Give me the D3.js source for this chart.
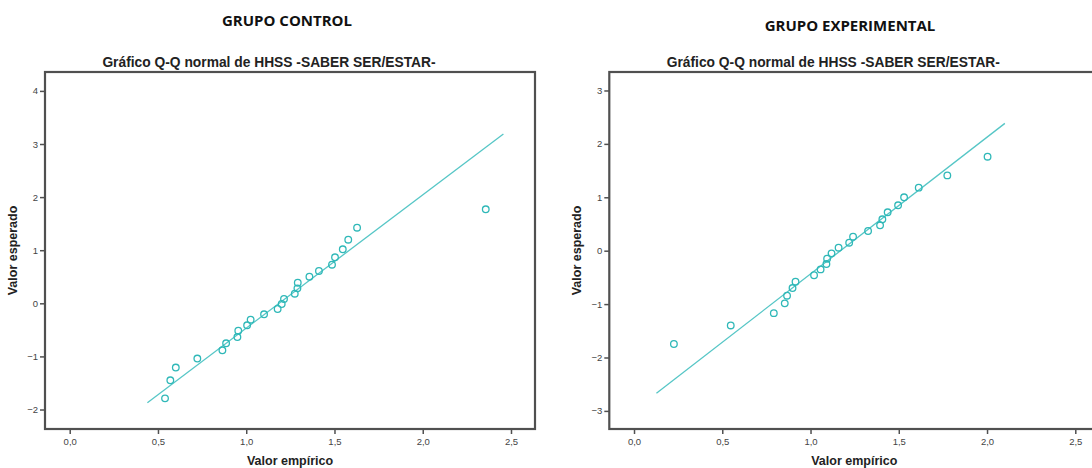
<!DOCTYPE html>
<html>
<head>
<meta charset="utf-8">
<script src="https://cdn.jsdelivr.net/npm/d3@7"></script>
<style>
  body { margin: 0; background: #fff; }
  svg { display: block; }
</style>
</head>
<body>
<svg id="chart" width="1092" height="468"></svg>
<script>
// Values
var xTicks = [0, 0.5, 1.0, 1.5, 2.0, 2.5];

var controlEmp = [0.540, 0.570, 0.601, 0.723, 0.865, 0.886, 0.950, 0.955, 1.005, 1.025,
                  1.101, 1.178, 1.201, 1.214, 1.275, 1.290, 1.292, 1.358, 1.412, 1.486,
                  1.503, 1.547, 1.578, 1.628, 2.357];
var controlExp = [-1.79, -1.45, -1.21, -1.04, -0.885, -0.753, -0.635, -0.516, -0.414, -0.309,
                  -0.207, -0.107, -0.013, 0.081, 0.181, 0.282, 0.388, 0.501, 0.608, 0.727,
                  0.866, 1.017, 1.198, 1.424, 1.770];
var controlLineX = [0.440, 2.457];
var controlYTicks = [-2, -1, 0, 1, 2, 3, 4];

var experEmp = [0.226, 0.548, 0.792, 0.854, 0.867, 0.898, 0.915, 1.020, 1.057, 1.090,
                1.094, 1.119, 1.159, 1.219, 1.241, 1.326, 1.394, 1.407, 1.437, 1.496,
                1.530, 1.613, 1.775, 2.003];
var experExp = [-1.747, -1.40, -1.17, -0.986, -0.843, -0.70, -0.58, -0.46, -0.35, -0.25,
                -0.15, -0.05, 0.056, 0.15, 0.262, 0.369, 0.475, 0.588, 0.719, 0.85,
                1.0, 1.18, 1.41, 1.76];
var experLineX = [0.127, 2.101];
var experYTicks = [-3, -2, -1, 0, 1, 2, 3];

var conf = {
    width: 490,
    height: 357,
    top: 72,
    pointColor: '#2fb8b8',
    lineColor: '#56c6c6',
    frameColor: '#505050'
};

var svg = d3.select('#chart');

// one Q-Q panel
var drawPanel = function(opt){
    var g = svg.append('g').attr('transform', 'translate(' + opt.left + ',' + conf.top + ')');

    var x = d3.scaleLinear().domain([-0.14, 2.636]).range([0, conf.width]);
    var y = d3.scaleLinear().domain(opt.yDomain).range([conf.height, 0]);

    // group heading
    svg.append('text')
        .attr('x', opt.headX)
        .attr('y', opt.headY)
        .attr('text-anchor', 'middle')
        .style('font-family', '"Open Sans", sans-serif')
        .style('font-weight', 'bold')
        .style('font-size', '15px')
        .attr('fill', '#111')
        .text(opt.heading);

    svg.append('text')
        .attr('x', opt.left + 224)
        .attr('y', 67)
        .attr('text-anchor', 'middle')
        .style('font-family', '"Liberation Sans", Arial, sans-serif')
        .style('font-weight', 'bold')
        .style('font-size', '13.8px')
        .attr('fill', '#222')
        .text('Gráfico Q-Q normal de HHSS -SABER SER/ESTAR-');

    // axes
    var yAxis = d3.axisLeft(y).tickValues(opt.yTicks).tickSize(5).tickPadding(2)
        .tickFormat(d3.format('d'));
    var xAxis = d3.axisBottom(x).tickValues(xTicks).tickSize(5).tickPadding(4)
        .tickFormat(function(d){ return d3.format('.1f')(d).replace('.', ','); });

    var ya = g.append('g').call(yAxis);
    var xa = g.append('g').attr('transform', 'translate(0,' + conf.height + ')').call(xAxis);
    [ya, xa].forEach(function(a){
        a.select('.domain').remove();
        a.selectAll('line').attr('stroke', conf.frameColor).attr('stroke-width', 1.5);
        a.selectAll('text')
            .style('font-family', '"Liberation Sans", Arial, sans-serif')
            .style('font-size', '9.5px')
            .attr('fill', '#444');
    });

    // frame
    g.append('rect')
        .attr('x', 0).attr('y', 0)
        .attr('width', conf.width).attr('height', conf.height)
        .attr('fill', 'none')
        .attr('stroke', conf.frameColor)
        .attr('stroke-width', 2.2);

    // reference line
    var lineY = function(v){ return (v - opt.mean) / opt.sd; };
    g.append('line')
        .attr('x1', x(opt.lineX[0])).attr('y1', y(lineY(opt.lineX[0])))
        .attr('x2', x(opt.lineX[1])).attr('y2', y(lineY(opt.lineX[1])))
        .attr('stroke', conf.lineColor)
        .attr('stroke-width', 1.3);

    // points
    g.selectAll('circle.pt')
        .data(d3.zip(opt.emp, opt.exp))
        .enter().append('circle')
        .attr('class', 'pt')
        .attr('cx', function(d){ return x(d[0]); })
        .attr('cy', function(d){ return y(d[1]); })
        .attr('r', 3.3)
        .attr('fill', 'none')
        .attr('stroke', conf.pointColor)
        .attr('stroke-width', 1.3);

    // axis titles
    g.append('text')
        .attr('transform', 'translate(' + (-28) + ',' + (conf.height / 2) + ') rotate(-90)')
        .attr('text-anchor', 'middle')
        .style('font-family', '"Liberation Sans", Arial, sans-serif')
        .style('font-weight', 'bold')
        .style('font-size', '12.5px')
        .attr('fill', '#222')
        .text('Valor esperado');

    g.append('text')
        .attr('x', conf.width / 2)
        .attr('y', conf.height + 36)
        .attr('text-anchor', 'middle')
        .style('font-family', '"Liberation Sans", Arial, sans-serif')
        .style('font-weight', 'bold')
        .style('font-size', '12.5px')
        .attr('fill', '#222')
        .text('Valor empírico');
};

drawPanel({
    left: 45, yDomain: [-2.367, 4.356], yTicks: controlYTicks,
    emp: controlEmp, exp: controlExp, lineX: controlLineX, mean: 1.186, sd: 0.3986,
    heading: 'GRUPO CONTROL', headX: 287, headY: 26
});

drawPanel({
    left: 609.3, yDomain: [-3.339, 3.346], yTicks: experYTicks,
    emp: experEmp, exp: experExp, lineX: experLineX, mean: 1.170, sd: 0.3905,
    heading: 'GRUPO EXPERIMENTAL', headX: 850, headY: 31
});
</script>
</body>
</html>
